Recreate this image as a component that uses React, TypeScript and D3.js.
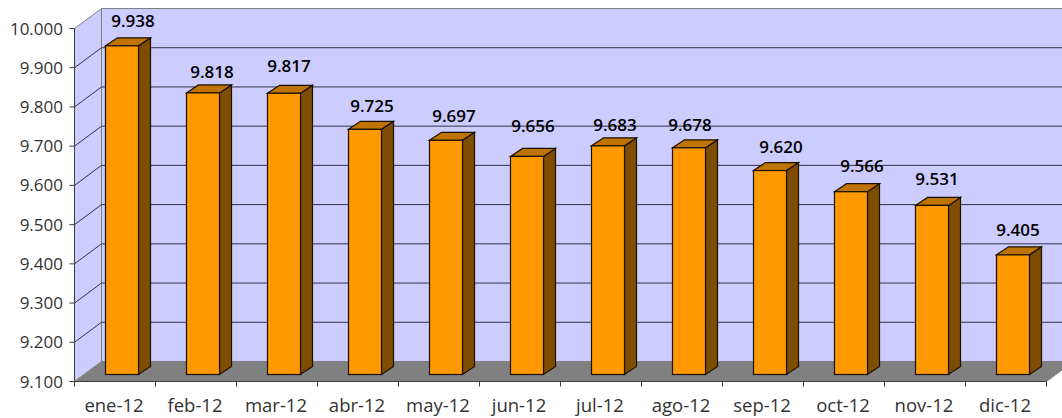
import React from 'react';
import * as d3 from 'd3';

const months = ['ene-12', 'feb-12', 'mar-12', 'abr-12', 'may-12', 'jun-12', 'jul-12', 'ago-12', 'sep-12', 'oct-12', 'nov-12', 'dic-12'];
const values = [9938, 9818, 9817, 9725, 9697, 9656, 9683, 9678, 9620, 9566, 9531, 9405];
const yTicks = [9100, 9200, 9300, 9400, 9500, 9600, 9700, 9800, 9900, 10000];

// the value labels were dragged by hand in the original, so they don't sit evenly
const labelShiftX = [-1, -3, -7, -5, -4, -6, -5, -11, -1, -1, -7, -7];
const labelLift = [19, 15, 21, 17, 18, 24, 15, 17, 18, 20, 20, 19];

const width = 1062;
const height = 418;
// front plane of the 3d box and how far back the wall sits
const left = 74.5, right = 1046.5, top = 28.5, bottom = 381.5;
const depthX = 27, depthY = 20;
// bars stand a little behind the front plane
const barInsetX = 7, barInsetY = 7, barW = 33, barDepthX = 12, barDepthY = 8;

const fmt = (v: number) => d3.format(',.0f')(v).replace(',', '.');
const font = '"Open Sans", sans-serif';
const edge = '#1a1000';
const axisColor = '#3c3c3c';

export default function App() {
    const x = d3.scaleBand<string>().domain(months).range([left, right]);
    const y = d3.scaleLinear().domain([9100, 10000]).range([bottom, top]);

    const floor = d3.line()([
        [left, bottom], [right, bottom], [right + depthX, bottom - depthY], [left + depthX, bottom - depthY],
    ]) + 'Z';
    const sideWall = d3.line()([
        [left, bottom], [left + depthX, bottom - depthY], [left + depthX, top - depthY], [left, top],
    ]) + 'Z';

    return (
        <svg width={width} height={height} style={{ position: 'absolute', left: 0, top: 0, background: '#fff' }}>
            {/* walls */}
            <path d={sideWall} fill="#ccccff" />
            <rect x={left + depthX} y={top - depthY} width={right - left} height={bottom - top} fill="#ccccff" stroke="#808080" />
            <path d={floor} fill="#808080" />

            {/* gridlines */}
            {yTicks.slice(1, -1).map(t => (
                <g key={t} stroke="#33334a" fill="none">
                    <line x1={left + depthX} x2={right + depthX} y1={y(t) - depthY} y2={y(t) - depthY} />
                    <line x1={left} x2={left + depthX} y1={y(t)} y2={y(t) - depthY} />
                </g>
            ))}
            <line x1={left} x2={left + depthX} y1={top} y2={top - depthY} stroke="#808080" />
            <line x1={left} x2={left + depthX} y1={bottom} y2={bottom - depthY} stroke="#808080" />
            <line x1={right} x2={right + depthX} y1={bottom} y2={bottom - depthY} stroke="#808080" />

            {/* bars */}
            {months.map((m, i) => {
                const bx = (x(m) as number) + x.bandwidth() / 2 - barW / 2 + barInsetX;
                const by = y(values[i]) - barInsetY;
                const base = bottom - barInsetY;
                const sidePath = d3.line()([
                    [bx + barW, by], [bx + barW + barDepthX, by - barDepthY], [bx + barW + barDepthX, base - barDepthY], [bx + barW, base],
                ]) + 'Z';
                const topPath = d3.line()([
                    [bx, by], [bx + barDepthX, by - barDepthY], [bx + barW + barDepthX, by - barDepthY], [bx + barW, by],
                ]) + 'Z';
                return (
                    <g key={m} stroke={edge} strokeWidth={1.2}>
                        <path d={sidePath} fill="#7f4d00" />
                        <path d={topPath} fill="#bf7300" />
                        <rect x={bx} y={by} width={barW} height={base - by} fill="#ff9900" />
                    </g>
                );
            })}

            {/* value labels go over the gridlines and bars */}
            {months.map((m, i) => (
                <text
                    key={m}
                    x={(x(m) as number) + x.bandwidth() / 2 + 19 + labelShiftX[i]}
                    y={y(values[i]) - barInsetY - labelLift[i]}
                    textAnchor="middle"
                    fontFamily={font}
                    fontSize={17}
                    fontWeight={600}
                    fill="#000"
                >
                    {fmt(values[i])}
                </text>
            ))}

            {/* axes */}
            <line x1={left} x2={left} y1={top} y2={bottom} stroke={axisColor} />
            <line x1={left} x2={right} y1={bottom} y2={bottom} stroke={axisColor} />
            {yTicks.map(t => (
                <g key={t}>
                    <line x1={left - 5} x2={left} y1={y(t)} y2={y(t)} stroke={axisColor} />
                    <text x={63} y={y(t) + 6} textAnchor="end" fontFamily={font} fontSize={17} fill="#333">{fmt(t)}</text>
                </g>
            ))}
            {months.map((m, i) => (
                <g key={m}>
                    <line x1={(x(m) as number)} x2={(x(m) as number)} y1={bottom} y2={bottom + 5} stroke={axisColor} />
                    {i === months.length - 1 && <line x1={right} x2={right} y1={bottom} y2={bottom + 5} stroke={axisColor} />}
                    <text x={(x(m) as number) + x.bandwidth() / 2 - 1} y={bottom + 30} textAnchor="middle" fontFamily={font} fontSize={18.5} fill="#333">{m}</text>
                </g>
            ))}
        </svg>
    );
}
